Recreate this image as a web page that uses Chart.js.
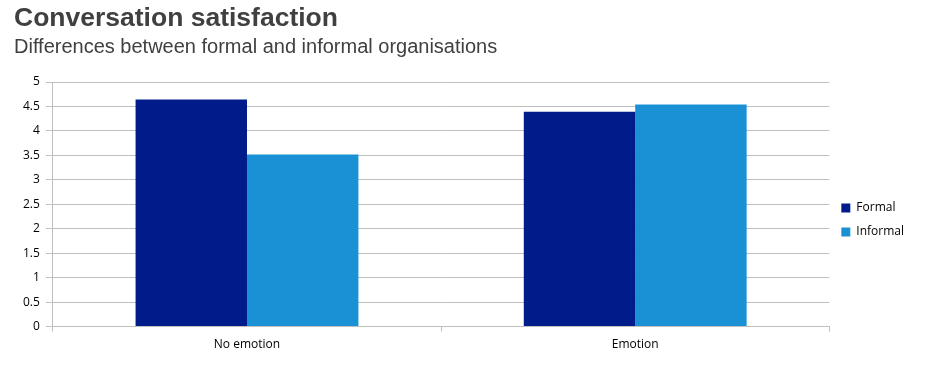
<!DOCTYPE html>
<html>
<head>
<meta charset="utf-8">
<script src="https://cdn.jsdelivr.net/npm/chart.js@4"></script>
<style>
  html, body { margin: 0; padding: 0; background: #fff; }
  #wrap { position: relative; width: 939px; height: 381px; }
  #title { position: absolute; left: 14px; top: 2px; font: bold 26.5px "Liberation Sans", Arial, sans-serif; color: #404040; }
  #sub { position: absolute; left: 14px; top: 35px; font: 20px "Liberation Sans", Arial, sans-serif; color: #404040; }
  canvas { position: absolute; left: 0; top: 0; }
</style>
</head>
<body>
<div id="wrap">
  <canvas id="chart" width="939" height="381"></canvas>
  <div id="title">Conversation satisfaction</div>
  <div id="sub">Differences between formal and informal organisations</div>
</div>
<script>
const categories = ['No emotion', 'Emotion'];
const formal = [4.64, 4.39];
const informal = [3.52, 4.54];
const yTicks = [0, 0.5, 1, 1.5, 2, 2.5, 3, 3.5, 4, 4.5, 5];

const tickFont = { family: '"Open Sans", "DejaVu Sans", sans-serif', size: 12 };
const gridColor = '#bfbfbf';

new Chart(document.getElementById('chart'), {
  type: 'bar',
  data: {
    labels: categories,
    datasets: [
      { label: 'Formal', data: formal, backgroundColor: '#001c8a' },
      { label: 'Informal', data: informal, backgroundColor: '#1a91d4' }
    ]
  },
  options: {
    responsive: false,
    animation: false,
    layout: { padding: { top: 82, left: 17, right: 25, bottom: 23 } },
    datasets: { bar: { barPercentage: 1, categoryPercentage: 0.574 } },
    plugins: {
      legend: {
        position: 'right',
        labels: { boxWidth: 9, boxHeight: 9, color: '#000', font: tickFont, padding: 12 }
      },
      tooltip: { enabled: false }
    },
    scales: {
      y: {
        min: 0, max: 5,
        afterBuildTicks: axis => { axis.ticks = yTicks.map(v => ({ value: v })); },
        grid: { color: gridColor, tickLength: 7 },
        border: { color: gridColor },
        ticks: { color: '#000', font: tickFont, padding: 6, callback: v => String(v) }
      },
      x: {
        grid: { drawOnChartArea: false, color: gridColor, tickLength: 5, offset: true },
        border: { color: gridColor },
        ticks: { color: '#000', font: tickFont, padding: 6 }
      }
    }
  }
});
</script>
</body>
</html>
